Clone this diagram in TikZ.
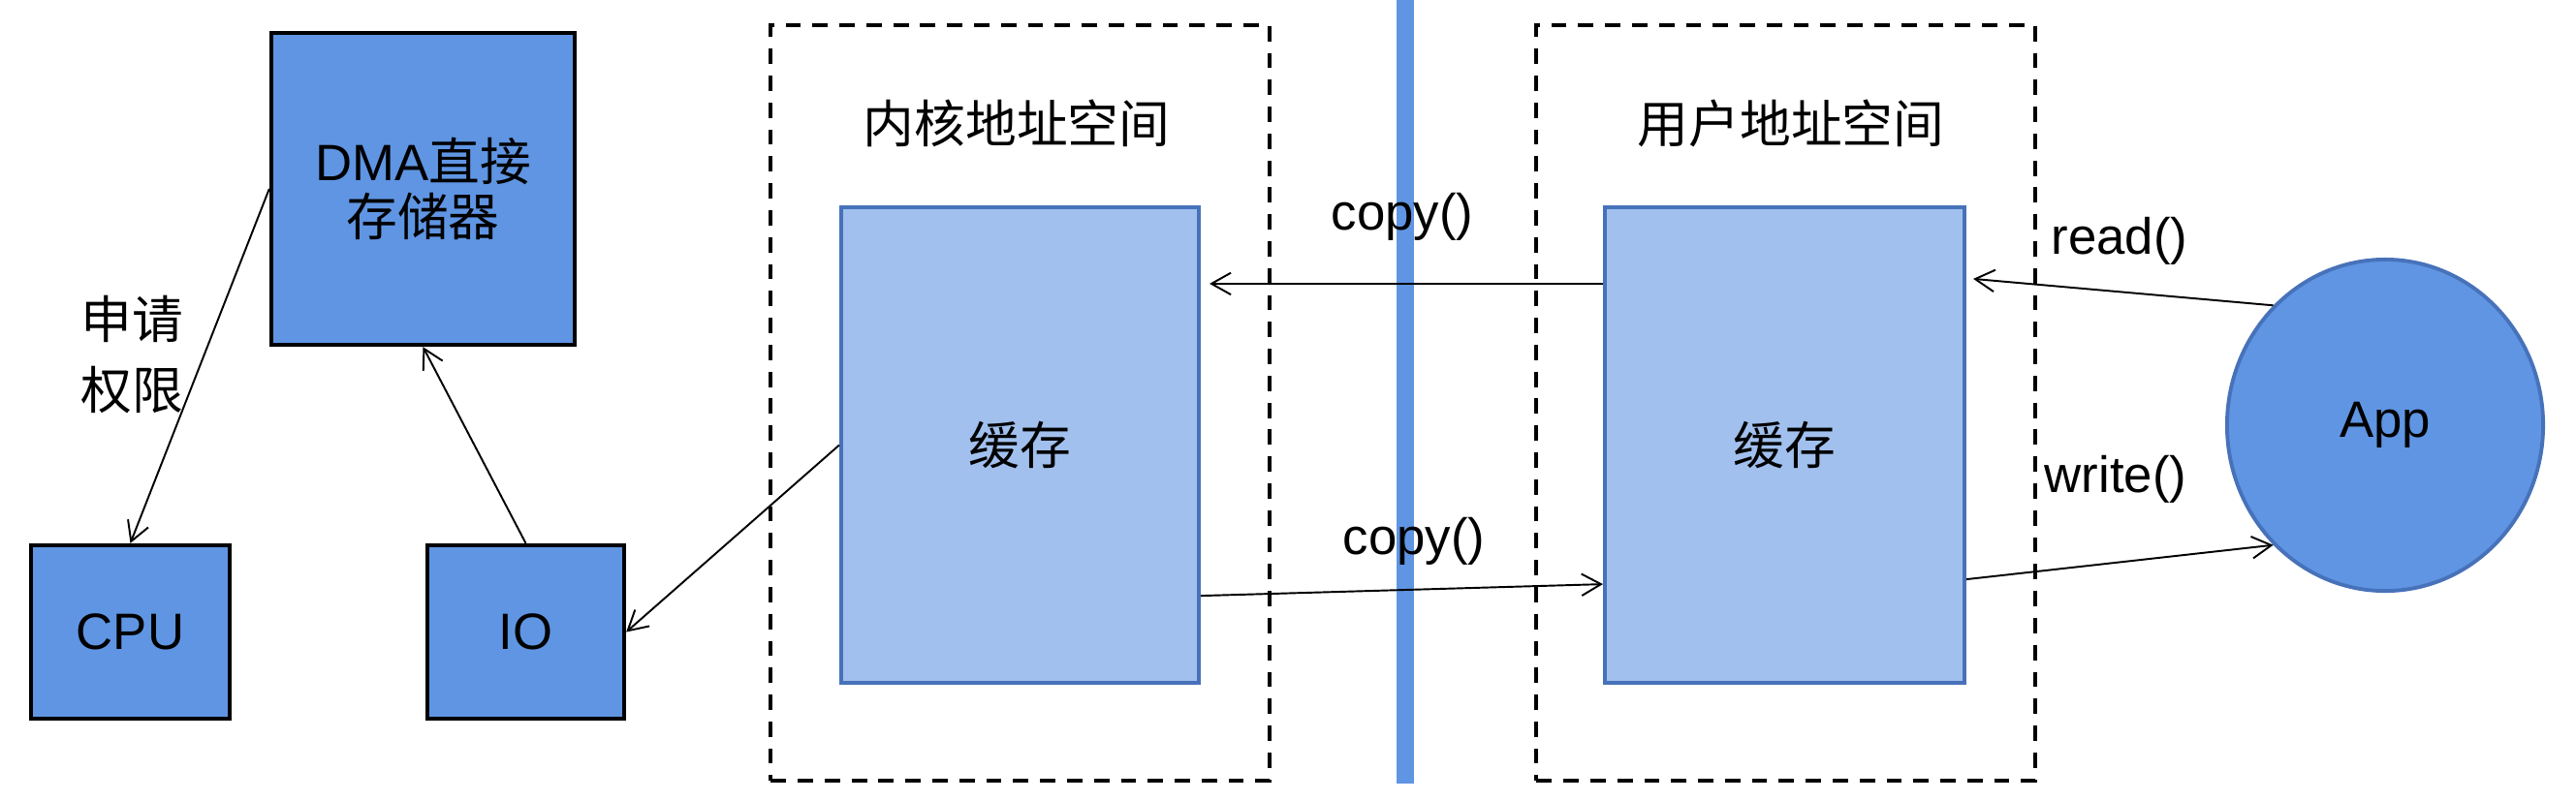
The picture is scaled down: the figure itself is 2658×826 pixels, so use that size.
\documentclass[tikz,border=0pt]{standalone}
\usepackage{fontspec}
\setmainfont{Liberation Sans}
\newfontfamily\cjk{Noto Sans CJK SC}
\usepackage{xcolor}
\usepackage{tikz}
\usetikzlibrary{shapes.geometric, arrows.meta}
\definecolor{hwblue}{RGB}{95,149,227}
\definecolor{bufblue}{RGB}{161,192,238}
\definecolor{edgeblue}{RGB}{71,114,186}
\tikzstyle{arrow} = [line width=0.55pt,-{Straight Barb[length=5.7pt,width=6.4pt]}]
\tikzstyle{hwbox} = [draw=black, line width=1.2pt, fill=hwblue, align=center, inner sep=0pt]
\tikzstyle{buffer} = [draw=edgeblue, line width=1.1pt, fill=bufblue, inner sep=0pt]
\tikzstyle{space} = [draw=black, line width=1.15pt, dash pattern=on 4.5pt off 3.4pt, inner sep=0pt]

\begin{document}
\begin{tikzpicture}[x=0.01cm,y=-0.01cm,font=\fontsize{15}{18}\selectfont]
	\useasboundingbox (0,0) rectangle (2658,826);

	% Hardware:
	\node[hwbox, minimum width=3.13cm, minimum height=3.22cm, font=\fontsize{15}{16.2}\selectfont] (dma) at (436.5,195) {DMA{\cjk 直接}\\{\cjk 存储器}};
	\node[hwbox, minimum width=2.05cm, minimum height=1.79cm] (cpu) at (134.5,652.5) {CPU};
	\node[hwbox, minimum width=2.03cm, minimum height=1.79cm] (io) at (542.5,652.5) {IO};
	\node[align=center, font=\fontsize{15}{20.7}\selectfont] (perm) at (136,366) {{\cjk 申请}\\{\cjk 权限}};

	% Address spaces:
	% The blue bar separates kernel and user space
	\fill[hwblue] (1441,0) rectangle (1459,809);
	\node[space, minimum width=5.14cm, minimum height=7.8cm] (kspace) at (1052.5,416) {};
	\node[space, minimum width=5.14cm, minimum height=7.8cm] (uspace) at (1842.5,416) {};
	\node (kname) at (1049,127) {\cjk 内核地址空间};
	\node (uname) at (1848,127) {\cjk 用户地址空间};
	\node[buffer, minimum width=3.69cm, minimum height=4.91cm] (kbuf) at (1052.5,459.5) {\cjk 缓存};
	\node[buffer, minimum width=3.71cm, minimum height=4.91cm] (ubuf) at (1841.5,459.5) {\cjk 缓存};

	% Application:
	\node[ellipse, draw=edgeblue, line width=1.1pt, fill=hwblue, minimum width=3.26cm, minimum height=3.42cm] (app) at (2461,439) {App};

	% Labels of the calls
	\node (copyup) at (1447,224) {copy()};
	\node (copydown) at (1459,559) {copy()};
	\node (read) at (2187,249) {read()};
	\node (write) at (2183,495) {write()};

	% Connectors:
	\draw[arrow] (dma.west) -- (cpu.north);
	\draw[arrow] (io.north) -- (dma.south);
	\draw[arrow] (kbuf.west) -- (io.east);
	\draw[arrow] ([yshift=1.665cm]ubuf.west) -- ([xshift=0.09cm,yshift=1.665cm]kbuf.east);
	\draw[arrow] ([yshift=-1.555cm]kbuf.east) -- ([yshift=-1.435cm]ubuf.west);
	\draw[arrow] (app.133) -- ([xshift=0.07cm,yshift=1.715cm]ubuf.east);
	\draw[arrow] ([yshift=-1.385cm]ubuf.east) -- (app.227);
\end{tikzpicture}
\end{document}
